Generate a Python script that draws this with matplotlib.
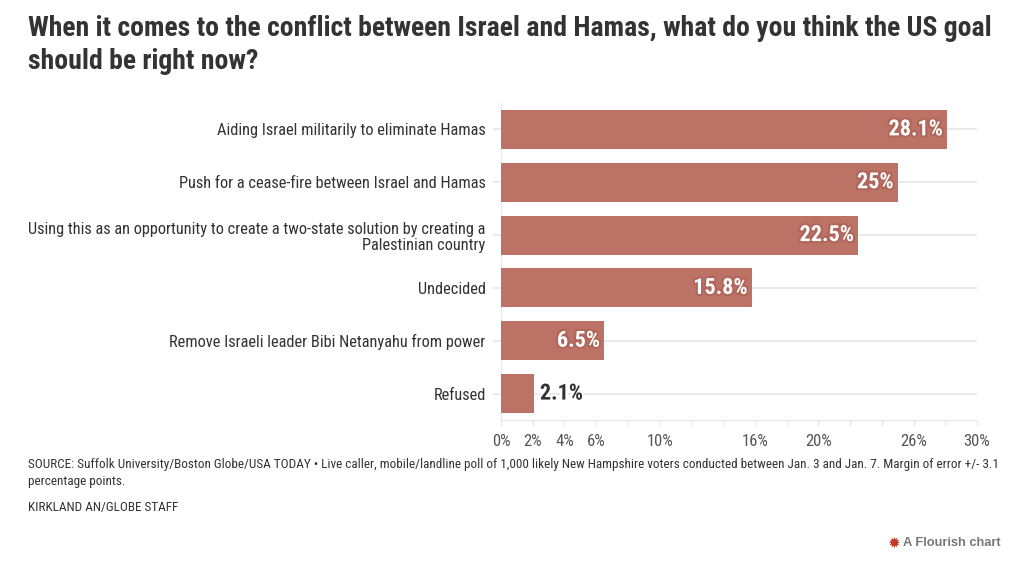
import numpy as np
import matplotlib.pyplot as plt
import matplotlib.patheffects as pe
from matplotlib.transforms import Bbox, TransformedBbox

plt.rcParams['font.family'] = ['Liberation Sans Narrow', 'Roboto Condensed', 'Liberation Sans', 'DejaVu Sans']

categories = [
    'Aiding Israel militarily to eliminate Hamas',
    'Push for a cease-fire between Israel and Hamas',
    'Using this as an opportunity to create a two-state solution by creating a\nPalestinian country',
    'Undecided',
    'Remove Israeli leader Bibi Netanyahu from power',
    'Refused',
]
values = [28.1, 25, 22.5, 15.8, 6.5, 2.1]
value_labels = ['28.1%', '25%', '22.5%', '15.8%', '6.5%', '2.1%']
tick_pos = list(range(0, 31, 2))
tick_labels = ['0%', '2%', '4%', '6%', '', '10%', '', '', '16%', '', '20%', '', '', '26%', '', '30%']

bar_color = '#bc7264'
grid_color = '#e6e6e6'

fig = plt.figure(figsize=(10.24, 5.70), dpi=100)
ax = fig.add_axes([501 / 1024, 1 - 420 / 570, 476 / 1024, 317 / 570])

y = np.arange(len(values))[::-1]
ax.hlines(y, -0.5, 30, color=grid_color, lw=1.2, zorder=0, clip_on=False)
ax.barh(y, values, height=0.74, color=bar_color, zorder=2)

for yi, v, lab in zip(y, values, value_labels):
    if v > 5:
        ax.text(v - 0.25, yi, lab, ha='right', va='center', fontsize=16,
                fontweight='bold', color='white', zorder=3,
                path_effects=[pe.withStroke(linewidth=3, foreground='#b0665a')])
    else:
        ax.text(v + 0.35, yi, lab, ha='left', va='center', fontsize=16,
                fontweight='bold', color='#333333', zorder=3,
                path_effects=[pe.withStroke(linewidth=3, foreground='white')])

ax.set_xlim(0, 30)
ax.set_ylim(-0.5, len(values) - 0.5)
ax.set_xticks(tick_pos)
ax.set_xticklabels(tick_labels)
ax.set_yticks(y)
ax.set_yticklabels(categories, fontsize=11.8, color='#333333', linespacing=1.1)
ax.tick_params(axis='y', length=0, pad=11)
ax.tick_params(axis='x', length=4, color=grid_color, labelsize=12,
               labelcolor='#555555', pad=6)
for s in ['top', 'right']:
    ax.spines[s].set_visible(False)
ax.spines['left'].set_color(grid_color)
ax.spines['bottom'].set_color(grid_color)
ax.spines['left'].set_zorder(1)

# the long label is cut off at the left margin in the original
clip = TransformedBbox(Bbox([[28 / 1024, 0], [1, 1]]), fig.transFigure)
for t in ax.get_yticklabels():
    t.set_clip_box(clip)
    t.set_clip_on(True)

fig.text(28 / 1024, 1 - 15 / 570,
         'When it comes to the conflict between Israel and Hamas, what do you think the US goal\nshould be right now?',
         fontsize=20, fontweight='bold', color='#333333', va='top', ha='left',
         linespacing=1.3)

fig.text(28 / 1024, 1 - 458 / 570,
         'SOURCE: Suffolk University/Boston Globe/USA TODAY \u2022 Live caller, mobile/landline poll of 1,000 likely New Hampshire voters conducted between Jan. 3 and Jan. 7. Margin of error +/- 3.1\npercentage points.',
         fontsize=9.5, color='#333333', va='top', ha='left', linespacing=1.35)
fig.text(28 / 1024, 1 - 507 / 570, 'KIRKLAND AN/GLOBE STAFF',
         fontsize=9.5, color='#333333', va='center', ha='left')

fig.text(1001 / 1024, 1 - 543 / 570, 'A Flourish chart', fontsize=9.3,
         fontweight='bold', color='#777777', ha='right', va='center',
         family=['Liberation Sans', 'DejaVu Sans'])
fig.text(894 / 1024, 1 - 543 / 570, '\u2739', fontsize=11, color='#c0392b',
         ha='center', va='center', family=['DejaVu Sans'])

fig.savefig('out.png', dpi=100)
